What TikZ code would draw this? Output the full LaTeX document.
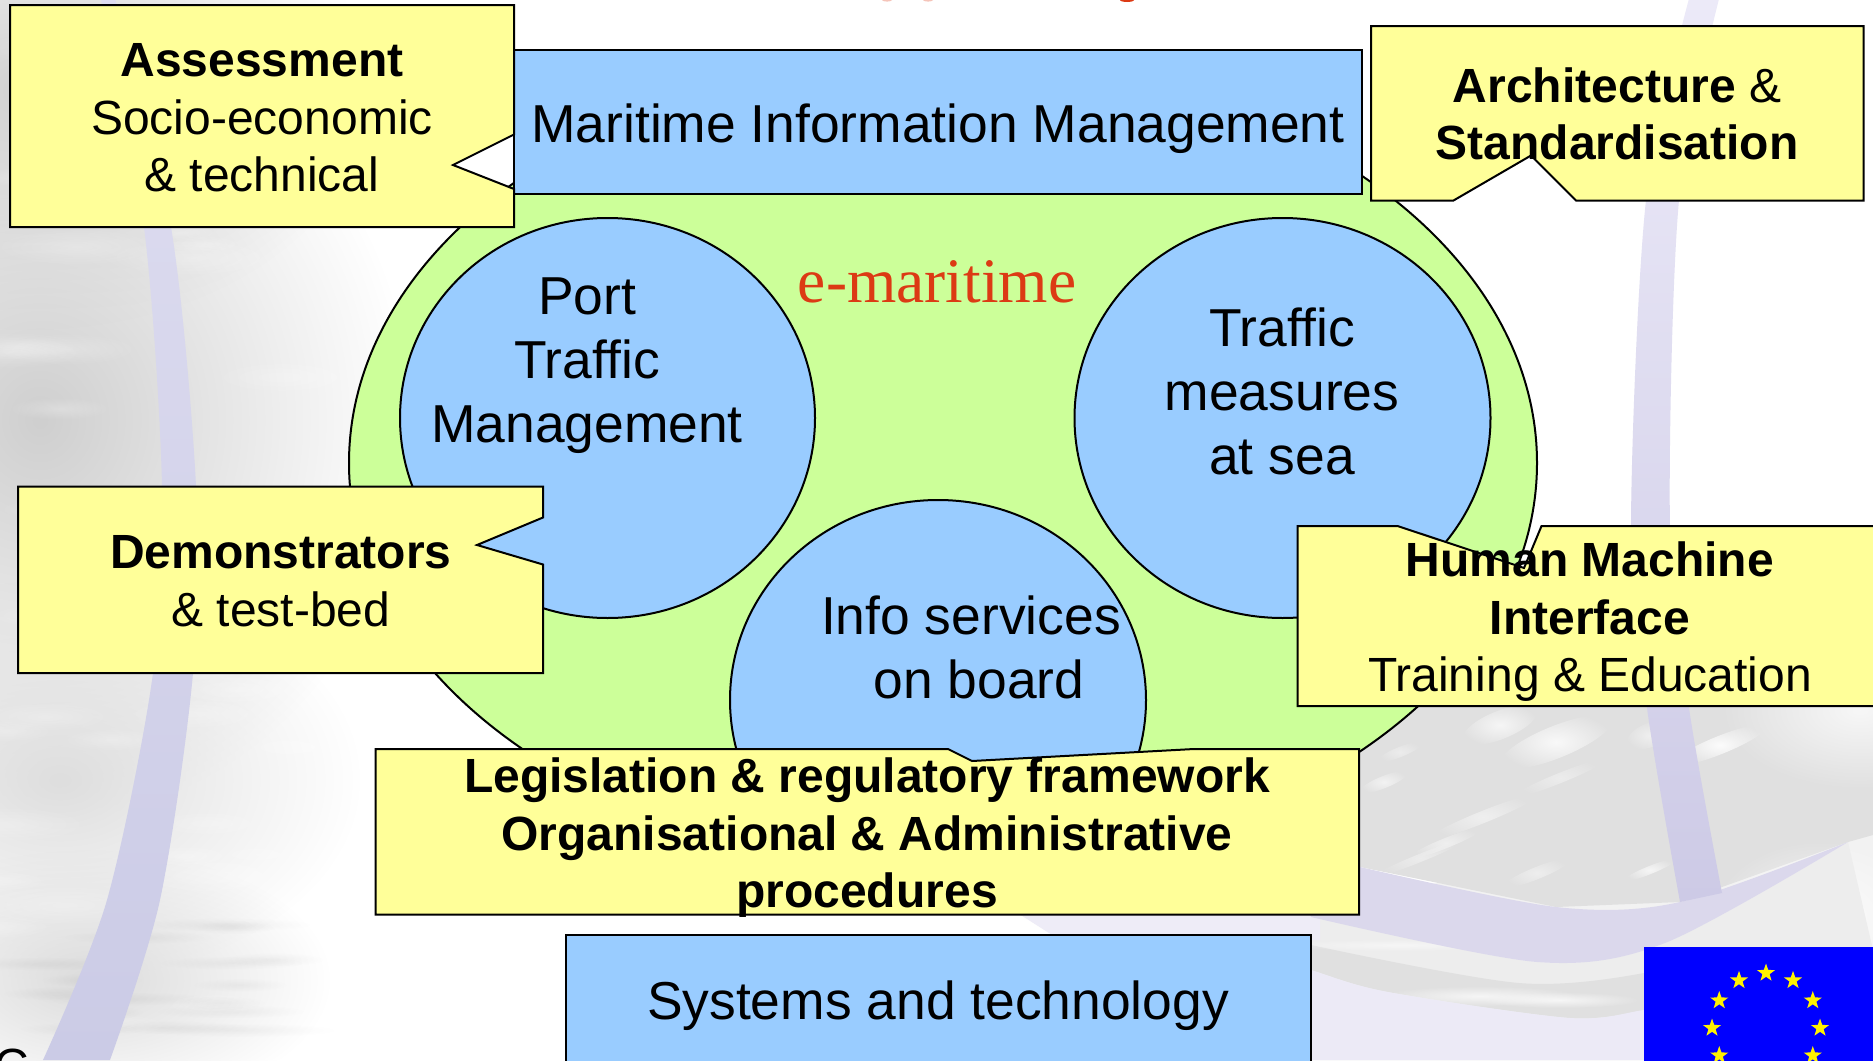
\documentclass[tikz,border=0pt]{standalone}
\usepackage{fontspec}
\setmainfont{Liberation Sans}
\newfontfamily\serifface{Liberation Serif}
\usetikzlibrary{fadings,shapes.geometric}
\tikzfading[name=softblob, inner color=transparent!0, outer color=transparent!100]
\definecolor{lblue}{HTML}{99CCFF}
\definecolor{lgreen}{HTML}{CCFF99}
\definecolor{lyellow}{HTML}{FFFF99}
\definecolor{tred}{HTML}{DC3A14}
\definecolor{euflag}{HTML}{0000FF}
\tikzset{
  outline/.style={draw=black,line width=1pt,line join=miter},
  bluebox/.style={outline,fill=lblue},
  callout/.style={outline,fill=lyellow},
  calltext/.style={align=center,font=\fontsize{24}{28.75}\selectfont,inner sep=0pt},
  maintext/.style={align=center,font=\fontsize{26.7}{32}\selectfont,inner sep=0pt},
  blob/.style={path fading=softblob},
  eustar/.style={star,star points=5,star point ratio=2.5,fill=yellow,inner sep=0pt,minimum size=9.5pt}
}
\begin{document}
\begin{tikzpicture}[x=0.5pt,y=-0.5pt]
\clip (0,0) rectangle (1873,1060);
\fill[white] (0,0) rectangle (1873,1060);
% ---------- background, left: sea texture
\fill[blob,color=black!19] (40,420) ellipse [x radius=370, y radius=400];
\fill[blob,color=black!18] (30,90) ellipse [x radius=340, y radius=240];
\fill[blob,color=black!13] (60,780) ellipse [x radius=300, y radius=200];
\fill[blob,color=black!14] (90,980) ellipse [x radius=240, y radius=130];
\pgfmathsetseed{11}
\foreach \i in {1,...,45}{
  \pgfmathsetmacro\px{rnd*330}\pgfmathsetmacro\py{rnd*1060}\pgfmathsetmacro\pr{30+rnd*70}
  \fill[blob,color=white,opacity=.25] (\px,\py) ellipse [x radius=\pr, y radius=\pr*.22];
}
\foreach \i in {1,...,16}{
  \pgfmathsetmacro\px{40+rnd*260}\pgfmathsetmacro\py{900+rnd*160}\pgfmathsetmacro\pr{40+rnd*60}
  \fill[blob,color=black,opacity=.04] (\px,\py) ellipse [x radius=\pr, y radius=7];
}
% ---------- background, right: sea and bands
\fill[color=black!5] (1320,900) -- (1873,820) -- (1873,1060) -- (1320,1060) -- cycle;
\fill[color=black!12] (1360,700) -- (1873,700) -- (1873,835) -- (1848,842) -- (1680,902) -- (1556,907) -- (1360,867) -- cycle;
\fill[blob,color=white,opacity=.75] (1860,710) ellipse [x radius=140, y radius=80];
\foreach \cx/\cy/\rx/\ry/\op in {1556/742/60/16/.8,1500/725/40/14/.7,1720/745/50/9/.9,1650/735/24/12/.5,1384/782/26/6/.6,1400/752/24/5/.4,1483/817/60/6/.5,1560/778/50/5/.4,1446/843/40/5/.5,1420/858/50/4/.4,1537/873/36/6/.45,1650/870/28/4/.7}{
  \fill[blob,color=white,opacity=\op,rotate around={22:(\cx,\cy)}] (\cx,\cy) ellipse [x radius=\rx, y radius=\ry];
}
\fill[color=white,blob,opacity=.8] (1820,920) ellipse [x radius=110, y radius=80];
% pale band, dark band, lavender floor
\fill[color=black!7] plot[smooth] coordinates {(1200,905) (1311,917) (1537,962) (1665,943) (1848,842)} -- (1873,950) -- (1873,1060) -- (1200,1060) -- cycle;
\fill[color=black!12] plot[smooth] coordinates {(1250,925) (1311,945) (1519,983) (1644,973) (1700,950)} -- (1700,1030) -- plot[smooth] coordinates {(1644,1010) (1570,1018) (1388,992) (1311,970) (1250,950)} -- cycle;
\fill[color=white,blob,opacity=.7] (1480,996) ellipse [x radius=100, y radius=10];
\fill[color=white,blob,opacity=.7] (1560,1000) ellipse [x radius=80, y radius=8];
\fill[color=white,blob,opacity=.5] (1400,945) ellipse [x radius=120, y radius=6];
\fill[color={rgb,255:red,236;green,234;blue,246}] plot[smooth] coordinates {(1250,950) (1311,970) (1388,992) (1570,1018) (1644,1010) (1700,1002)} -- (1700,1060) -- (1250,1060) -- cycle;
\fill[color={rgb,255:red,238;green,236;blue,247}] (1005,905) -- (1320,905) -- (1320,940) -- (1060,940) -- cycle;
% ---------- lavender swooshes
\shade[top color={rgb,255:red,222;green,221;blue,240},bottom color={rgb,255:red,203;green,203;blue,230}]
  plot[smooth] coordinates {(100,-5) (144,227) (162,486) (153,673) (107,900) (43,1060)} --
  plot[smooth] coordinates {(110,1060) (160,900) (193,673) (196,486) (171,227) (114,-5)} -- cycle;
\fill[color={rgb,255:red,219;green,216;blue,236}]
  plot[smooth] coordinates {(1360,867) (1556,907) (1680,902) (1848,842)} --
  plot[smooth] coordinates {(1848,842) (1665,943) (1537,962) (1311,917)} -- (1300,880) -- cycle;
\shade[top color={rgb,255:red,236;green,234;blue,248},bottom color={rgb,255:red,205;green,202;blue,230}]
  plot[smooth] coordinates {(1690,-5) (1646,200) (1631,530) (1647,708) (1680,902)} --
  plot[smooth] coordinates {(1722,893) (1689,708) (1670,530) (1679,200) (1720,-5)} -- cycle;
% ---------- cropped title and page mark
\fill[tred!30] (887,0) ellipse [x radius=5, y radius=1.6];
\fill[tred!30] (928,0) ellipse [x radius=5, y radius=1.6];
\fill[tred] (1127,0) ellipse [x radius=7, y radius=2];
\node[calltext,anchor=base] (cmark) at (12,1082) {C};
% ---------- green ellipse and circles
\draw[outline,fill=lgreen] (943,463) ellipse [x radius=594, y radius=405];
\draw[bluebox] (607.5,418) ellipse [x radius=207.5, y radius=200];
\draw[bluebox] (1282.5,418) ellipse [x radius=208, y radius=200];
\draw[bluebox] (938,700) ellipse [x radius=208, y radius=200];
\node[maintext] (port) at (587,366) {Port\\Traffic\\Management};
\node[maintext] (seameasures) at (1282,391) {Traffic\\measures\\at sea};
\node[maintext] (info) at (971,647) {Info services\\\hspace*{8pt}on board};
\node[inner sep=0pt,text=tred,font=\serifface\fontsize{31.7}{38}\selectfont] (emar) at (937,282) {e-maritime};
% ---------- blue bars
\draw[bluebox] (514,50) rectangle (1362,194);
\node[maintext] (mim) at (938,129) {Maritime Information Management};
\draw[bluebox] (565.5,934.5) rectangle (1310.5,1070);
\node[maintext] (sys) at (938,1006) {Systems and technology};
% ---------- flag
\fill[euflag] (1644,946.5) rectangle (1880,1070);
\foreach \a in {0,30,...,330}{
  \node[eustar] (st\a) at ({1766+54*sin(\a)},{1028-55*cos(\a)}) {};
}
% ---------- callouts
\draw[callout] (10,5) -- (514,5) -- (514,134.5) -- (453,165) -- (514,189) -- (514,227) -- (10,227) -- cycle;
\node[calltext] (assess) at (262,118) {\textbf{Assessment}\\Socio-economic\\\& technical};
\draw[callout] (1371,26) -- (1863.5,26) -- (1863.5,200.5) -- (1576,200.5) -- (1531,155.5) -- (1453.5,200.5) -- (1371,200.5) -- cycle;
\node[calltext] (arch) at (1617,114) {\textbf{Architecture} \&\\\textbf{Standardisation}};
\draw[callout] (18,486.5) -- (543,486.5) -- (543,517.5) -- (477,545) -- (543,564.5) -- (543,673) -- (18,673) -- cycle;
\node[calltext] (demo) at (281,581) {\textbf{Demonstrators}\\\& test-bed};
\draw[callout] (1297.5,526) -- (1397.5,526) -- (1524,568) -- (1541.5,526) -- (1885,526) -- (1885,706) -- (1297.5,706) -- cycle;
\node[calltext] (hmi) at (1590,622) {\textbf{Human Machine}\\\textbf{Interface}\\Training \& Education};
\draw[callout] (375.5,749) -- (948,749) -- (972,761) -- (1194,749) -- (1359,749) -- (1359,914.5) -- (375.5,914.5) -- cycle;
\node[calltext,font=\bfseries\fontsize{24}{28.75}\selectfont] (legis) at (867,838) {Legislation \& regulatory framework\\Organisational \& Administrative\\procedures};
\end{tikzpicture}
\end{document}
